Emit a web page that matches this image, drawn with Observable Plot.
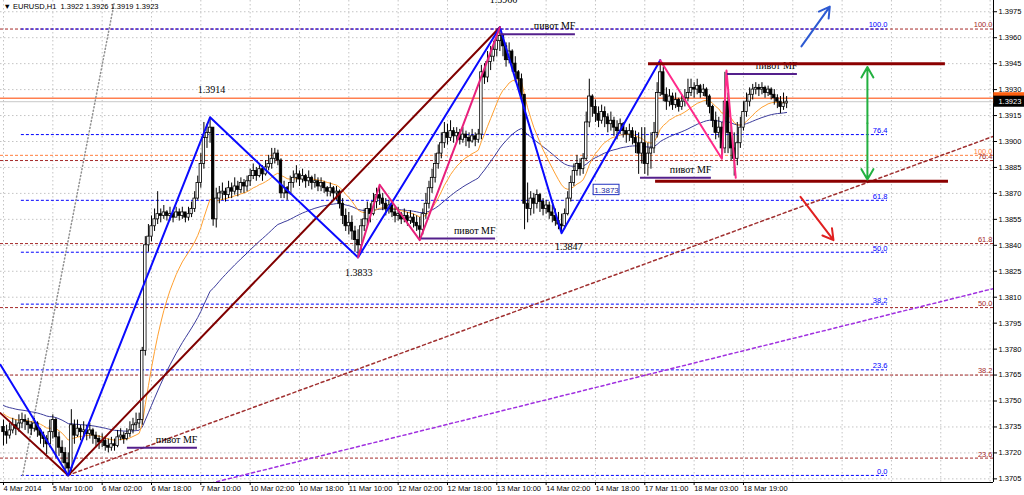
<!DOCTYPE html>
<html><head><meta charset="utf-8">
<script src="https://cdn.jsdelivr.net/npm/d3@7"></script>
<script src="https://cdn.jsdelivr.net/npm/@observablehq/plot@0.6"></script>
<style>body{margin:0;background:#fff}</style>
</head><body><div id="chart"></div>
<script>
// ---- data (EURUSD H1, bar index 0 = 4 Mar 2014 18:00) ----
const title = "\u25BC EURUSD,H1  1.3922 1.3926 1.3919 1.3923";
const firstOpen = 1.3735;
const closes = [
1.3732,1.3730,1.3733,1.3736,1.3734,1.3737,1.3739,1.3738,1.3736,1.3734,
1.3737,1.3733,1.3730,1.3728,1.3725,1.3732,1.3739,1.3729,1.3723,1.3720,
1.3714,1.3711,1.3736,1.3730,1.3734,1.3732,1.3733,1.3731,1.3733,1.3730,
1.3728,1.3726,1.3727,1.3724,1.3723,1.3725,1.3724,1.3729,1.3730,1.3728,
1.3731,1.3733,1.3736,1.3737,1.3739,1.3779,1.3840,1.3845,1.3851,1.3855,
1.3858,1.3857,1.3859,1.3857,1.3858,1.3856,1.3859,1.3857,1.3859,1.3856,
1.3858,1.3861,1.3867,1.3876,1.3887,1.3902,1.3905,1.3908,1.3855,1.3867,
1.3870,1.3871,1.3869,1.3873,1.3871,1.3874,1.3872,1.3876,1.3874,1.3877,
1.3880,1.3883,1.3880,1.3884,1.3881,1.3885,1.3887,1.3890,1.3893,1.3889,
1.3870,1.3873,1.3870,1.3876,1.3879,1.3881,1.3878,1.3880,1.3877,1.3879,
1.3876,1.3877,1.3874,1.3876,1.3873,1.3871,1.3873,1.3870,1.3871,1.3864,
1.3857,1.3851,1.3853,1.3848,1.3843,1.3840,1.3851,1.3855,1.3861,1.3858,
1.3865,1.3869,1.3867,1.3864,1.3861,1.3863,1.3859,1.3857,1.3858,1.3855,
1.3857,1.3854,1.3856,1.3853,1.3851,1.3849,1.3858,1.3864,1.3873,1.3879,
1.3887,1.3893,1.3899,1.3905,1.3902,1.3906,1.3903,1.3905,1.3901,1.3904,
1.3902,1.3900,1.3903,1.3901,1.3904,1.3940,1.3937,1.3946,1.3949,1.3953,
1.3958,1.3961,1.3955,1.3947,1.3952,1.3945,1.3940,1.3936,1.3927,1.3864,
1.3861,1.3867,1.3864,1.3869,1.3865,1.3861,1.3863,1.3859,1.3857,1.3854,
1.3852,1.3851,1.3858,1.3867,1.3876,1.3883,1.3887,1.3884,1.3890,1.3911,
1.3926,1.3920,1.3916,1.3912,1.3917,1.3914,1.3910,1.3912,1.3908,1.3906,
1.3910,1.3906,1.3904,1.3906,1.3902,1.3899,1.3893,1.3899,1.3887,1.3893,
1.3896,1.3905,1.3928,1.3940,1.3927,1.3923,1.3926,1.3921,1.3924,1.3920,
1.3923,1.3925,1.3928,1.3931,1.3930,1.3932,1.3928,1.3930,1.3926,1.3920,
1.3912,1.3905,1.3908,1.3896,1.3923,1.3905,1.3896,1.3890,1.3899,1.3908,
1.3917,1.3923,1.3927,1.3930,1.3931,1.3930,1.3931,1.3928,1.3930,1.3927,
1.3925,1.3923,1.3920,1.3922,1.3923];
const highs = [
1.3739,1.3736,1.3737,1.3740,1.3739,1.3742,1.3743,1.3742,1.3740,1.3738,
1.3740,1.3738,1.3734,1.3732,1.3730,1.3739,1.3742,1.3740,1.3732,1.3727,
1.3723,1.3720,1.3745,1.3739,1.3739,1.3736,1.3738,1.3736,1.3737,1.3734,
1.3732,1.3730,1.3731,1.3729,1.3728,1.3729,1.3728,1.3733,1.3734,1.3732,
1.3734,1.3738,1.3740,1.3743,1.3743,1.3781,1.3845,1.3852,1.3857,1.3861,
1.3871,1.3861,1.3863,1.3860,1.3862,1.3860,1.3862,1.3861,1.3862,1.3859,
1.3862,1.3865,1.3871,1.3880,1.3893,1.3911,1.3910,1.3914,1.3905,1.3873,
1.3874,1.3876,1.3873,1.3877,1.3876,1.3879,1.3877,1.3879,1.3878,1.3880,
1.3884,1.3887,1.3885,1.3887,1.3886,1.3889,1.3892,1.3896,1.3896,1.3895,
1.3890,1.3877,1.3874,1.3880,1.3883,1.3886,1.3883,1.3884,1.3881,1.3883,
1.3880,1.3881,1.3879,1.3879,1.3877,1.3874,1.3876,1.3874,1.3874,1.3872,
1.3867,1.3861,1.3859,1.3857,1.3851,1.3849,1.3855,1.3861,1.3865,1.3864,
1.3870,1.3873,1.3875,1.3870,1.3867,1.3866,1.3865,1.3862,1.3862,1.3859,
1.3861,1.3859,1.3860,1.3858,1.3857,1.3856,1.3861,1.3870,1.3877,1.3884,
1.3893,1.3898,1.3905,1.3911,1.3910,1.3912,1.3908,1.3908,1.3907,1.3908,
1.3906,1.3905,1.3907,1.3905,1.3907,1.3944,1.3945,1.3952,1.3955,1.3958,
1.3963,1.3966,1.3962,1.3957,1.3957,1.3953,1.3949,1.3941,1.3939,1.3927,
1.3876,1.3871,1.3870,1.3872,1.3870,1.3867,1.3866,1.3865,1.3863,1.3861,
1.3859,1.3858,1.3861,1.3871,1.3880,1.3887,1.3892,1.3890,1.3893,1.3917,
1.3936,1.3927,1.3924,1.3920,1.3921,1.3920,1.3916,1.3917,1.3914,1.3912,
1.3913,1.3911,1.3908,1.3910,1.3908,1.3906,1.3905,1.3908,1.3908,1.3899,
1.3905,1.3911,1.3934,1.3947,1.3943,1.3931,1.3930,1.3928,1.3928,1.3925,
1.3927,1.3930,1.3936,1.3936,1.3934,1.3936,1.3933,1.3933,1.3931,1.3927,
1.3921,1.3917,1.3914,1.3911,1.3940,1.3928,1.3911,1.3905,1.3911,1.3914,
1.3923,1.3928,1.3931,1.3933,1.3934,1.3933,1.3934,1.3932,1.3932,1.3931,
1.3930,1.3927,1.3926,1.3928,1.3926];
const lows = [
1.3724,1.3725,1.3728,1.3731,1.3730,1.3732,1.3734,1.3733,1.3731,1.3730,
1.3732,1.3729,1.3725,1.3723,1.3719,1.3723,1.3728,1.3717,1.3718,1.3714,
1.3710,1.3707,1.3709,1.3725,1.3729,1.3727,1.3729,1.3727,1.3728,1.3725,
1.3723,1.3722,1.3723,1.3721,1.3720,1.3721,1.3721,1.3723,1.3727,1.3725,
1.3727,1.3729,1.3731,1.3733,1.3734,1.3736,1.3776,1.3836,1.3842,1.3848,
1.3852,1.3853,1.3855,1.3854,1.3854,1.3853,1.3856,1.3854,1.3855,1.3853,
1.3854,1.3856,1.3859,1.3866,1.3873,1.3884,1.3896,1.3899,1.3851,1.3850,
1.3864,1.3866,1.3865,1.3867,1.3867,1.3869,1.3868,1.3870,1.3870,1.3871,
1.3874,1.3878,1.3877,1.3879,1.3877,1.3880,1.3883,1.3884,1.3887,1.3886,
1.3867,1.3867,1.3866,1.3869,1.3873,1.3876,1.3874,1.3876,1.3873,1.3874,
1.3872,1.3873,1.3871,1.3871,1.3870,1.3868,1.3868,1.3866,1.3866,1.3861,
1.3852,1.3848,1.3846,1.3843,1.3836,1.3833,1.3837,1.3848,1.3851,1.3853,
1.3857,1.3861,1.3863,1.3860,1.3857,1.3858,1.3856,1.3853,1.3854,1.3852,
1.3853,1.3851,1.3852,1.3850,1.3848,1.3843,1.3846,1.3855,1.3861,1.3870,
1.3876,1.3884,1.3890,1.3896,1.3898,1.3900,1.3899,1.3900,1.3898,1.3899,
1.3897,1.3896,1.3899,1.3897,1.3899,1.3901,1.3933,1.3934,1.3941,1.3946,
1.3949,1.3952,1.3949,1.3943,1.3945,1.3940,1.3934,1.3930,1.3925,1.3849,
1.3853,1.3857,1.3858,1.3861,1.3859,1.3857,1.3858,1.3855,1.3853,1.3851,
1.3849,1.3847,1.3849,1.3857,1.3865,1.3874,1.3880,1.3880,1.3881,1.3889,
1.3908,1.3914,1.3911,1.3908,1.3910,1.3908,1.3905,1.3906,1.3903,1.3901,
1.3904,1.3902,1.3899,1.3900,1.3898,1.3893,1.3881,1.3887,1.3881,1.3880,
1.3884,1.3893,1.3902,1.3926,1.3923,1.3918,1.3920,1.3918,1.3919,1.3917,
1.3918,1.3920,1.3923,1.3926,1.3925,1.3927,1.3925,1.3926,1.3921,1.3916,
1.3908,1.3901,1.3902,1.3890,1.3893,1.3893,1.3889,1.3880,1.3886,1.3896,
1.3906,1.3914,1.3920,1.3924,1.3927,1.3926,1.3927,1.3925,1.3926,1.3924,
1.3921,1.3919,1.3916,1.3918,1.3919];

const timeLabels = ["4 Mar 2014","5 Mar 10:00","6 Mar 02:00","6 Mar 18:00","7 Mar 10:00","10 Mar 02:00","10 Mar 18:00","11 Mar 10:00","12 Mar 02:00","12 Mar 18:00","13 Mar 10:00","14 Mar 02:00","14 Mar 18:00","17 Mar 11:00","18 Mar 03:00","18 Mar 19:00"];
const barsPerLabel = 16;
const priceTicks = [1.3705,1.3720,1.3735,1.3750,1.3765,1.3780,1.3795,1.3810,1.3825,1.3840,1.3855,1.3870,1.3885,1.3900,1.3915,1.3930,1.3945,1.3960,1.3975];
const viewBars = [-0.973, 321.1];
const viewPrices = [1.37029, 1.39815];

// moving averages (EMA), seeded from the values visible at the left edge
const fastPeriod = 17, fastSeed = 1.3744;
const slowPeriod = 50, slowSeed = 1.3748;

// Fibonacci levels
const blueFibLevels = ["0.0","23.6","38.2","50.0","61.8","76.4","100.0"];
const blueFibPrices = [1.3707,1.3768,1.3806,1.3836,1.3866,1.3904,1.3965];
const blueFibBars = [5.8, 286.7];
const brownFibLevels = ["23.6","38.2","50.0","61.8","76.4","100.0"];
const brownFibPrices = [1.3717,1.3765,1.3804,1.3841,1.3889,1.3965];
const orangeFibLevels = ["100.0"];
const orangeFibPrices = [1.3892];

// zigzags
const zigBlueBars = [-1, 21, 67, 115, 161, 181, 213];
const zigBluePrices = [1.3771, 1.3707, 1.3914, 1.3833, 1.3966, 1.3847, 1.3947];
const zigMaroonBars = [-1, 21, 161];
const zigMaroonPrices = [1.3743, 1.3707, 1.3966];
const zigPinkABars = [115, 122, 135, 161];
const zigPinkAPrices = [1.3833, 1.3875, 1.3843, 1.3966];
const zigPinkBBars = [213, 233, 234.5, 237.5];
const zigPinkBPrices = [1.3947, 1.3890, 1.3941, 1.3879];

// trend lines
const grayTrendBars = [6.2, 36.0], grayTrendPrices = [1.3707, 1.3981];
const brownTrendBars = [20.8, 321.1], brownTrendPrices = [1.3707, 1.3903];
const purpleTrendBars = [61.6, 321.1], purpleTrendPrices = [1.3700, 1.3815];

// pivot MF segments
const pivotStart = [40.2, 135.6, 161.2, 206.6, 234.8];
const pivotEnd = [62.9, 159.6, 185.5, 229.6, 257.5];
const pivotPrices = [1.3723, 1.3844, 1.3962, 1.3879, 1.3939];
const pivotText = "пивот MF";

// channel levels
const channelStart = [209.2, 211.5];
const channelEnd = [305.5, 306.5];
const channelPrices = [1.3945, 1.3877];

// price labels
const labelBars = [67.5, 115.2, 183.3, 162.2];
const labelPrices = [1.3930, 1.3824, 1.3839, 1.3982];
const labelTexts = ["1.3914", "1.3833", "1.3847", "1.3966"];
const boxBars = [191.4, 199.8], boxPrices = [1.3869, 1.3875], boxText = "1.3873";

// arrows
const arrowUp = {b1: 258.8, p1: 1.3955, b2: 268.0, p2: 1.3978};
const arrowDown = {b1: 258.5, p1: 1.3868, b2: 269.2, p2: 1.3843};
const rangeArrowBar = 280.2, rangeArrowPrices = [1.3943, 1.3878];

const askPrice = 1.3925, bidPrice = 1.3923;

// ---- build ----
function ema(values, period, seed) {
  const a = 2 / (period + 1); let e = seed;
  return values.map(v => (e += a * (v - e)));
}
const bars = closes.map((c, i) => {
  const o = i ? closes[i - 1] : firstOpen;
  return {i, o, c, h: Math.max(highs[i], o, c), l: Math.min(lows[i], o, c)};
});
const fast = ema(closes, fastPeriod, fastSeed).map((v, i) => ({i, v}));
const slow = ema(closes, slowPeriod, slowSeed).map((v, i) => ({i, v}));
const pts = (bs, ps) => bs.map((b, k) => ({b, p: ps[k]}));
const labelTicks = timeLabels.map((_, k) => k * barsPerLabel);
const gridTicks = d3.range(0, viewBars[1], barsPerLabel);
const xMax = viewBars[1];

const blueFib = blueFibPrices.map((p, k) => ({p, t: blueFibLevels[k]}));
const brownFib = brownFibPrices.map((p, k) => ({p, t: brownFibLevels[k]}));
const orangeFib = orangeFibPrices.map((p, k) => ({p, t: orangeFibLevels[k]}));
const pivots = pivotPrices.map((p, k) => ({p, b1: pivotStart[k], b2: pivotEnd[k]}));
const channels = channelPrices.map((p, k) => ({p, b1: channelStart[k], b2: channelEnd[k]}));
const labels = labelTexts.map((t, k) => ({t, b: labelBars[k], p: labelPrices[k]}));
const serif = "'Liberation Serif', 'Times New Roman', serif";

const chart = Plot.plot({
  width: 1024, height: 495,
  marginLeft: 0, marginRight: 31, marginTop: 0, marginBottom: 13,
  x: {type: "linear", domain: viewBars},
  y: {type: "linear", domain: viewPrices},
  style: {fontFamily: "'Liberation Sans', Arial, sans-serif", fontSize: "7.5px", background: "white", color: "black", overflow: "visible"},
  marks: [
    Plot.gridY({ticks: priceTicks, stroke: "#c4c4c4", strokeOpacity: 1, strokeDasharray: "1.5,2.5"}),
    Plot.gridX({ticks: gridTicks, stroke: "#c4c4c4", strokeOpacity: 1, strokeDasharray: "1.5,2.5"}),
    // fib levels
    Plot.ruleY(brownFib, {y: "p", stroke: "#a52a2a", strokeDasharray: "3,2"}),
    Plot.ruleY(orangeFib, {y: "p", stroke: "#ff7f3f", strokeDasharray: "3,2"}),
    Plot.ruleY(blueFib, {y: "p", x1: blueFibBars[0], x2: blueFibBars[1], stroke: "#0000ff", strokeDasharray: "3,2"}),
    Plot.text(brownFib, {x: xMax, y: "p", text: "t", textAnchor: "end", dx: -1, dy: -4, fill: "#a52a2a"}),
    Plot.text(orangeFib, {x: xMax, y: "p", text: "t", textAnchor: "end", dx: -1, dy: -4, fill: "#ff7f3f"}),
    Plot.text(blueFib, {x: blueFibBars[1], y: "p", text: "t", textAnchor: "end", dy: -4, fill: "#0000ff"}),
    // price lines
    Plot.ruleY([bidPrice], {stroke: "#c8c8c8"}),
    Plot.ruleY([askPrice], {stroke: "#ff8050", strokeWidth: 1.5}),
    // trend lines
    Plot.line(pts(grayTrendBars, grayTrendPrices), {x: "b", y: "p", stroke: "#909090", strokeDasharray: "1,2.5", clip: true}),
    Plot.line(pts(brownTrendBars, brownTrendPrices), {x: "b", y: "p", stroke: "#a03030", strokeDasharray: "3,3", clip: true}),
    Plot.line(pts(purpleTrendBars, purpleTrendPrices), {x: "b", y: "p", stroke: "#a030e0", strokeDasharray: "3,3", clip: true}),
    // moving averages
    Plot.line(slow, {x: "i", y: "v", stroke: "#3c3c9c", strokeWidth: 1}),
    Plot.line(fast, {x: "i", y: "v", stroke: "#ffa030", strokeWidth: 1}),
    // candles
    Plot.ruleX(bars, {x: "i", y1: "l", y2: "h", stroke: "black", strokeWidth: 1}),
    Plot.rect(bars, {x1: d => d.i - 0.4, x2: d => d.i + 0.4, y1: "o", y2: "c", fill: d => d.c >= d.o ? "white" : "black", stroke: "black", strokeWidth: 0.8}),
    // zigzags
    Plot.line(pts(zigMaroonBars, zigMaroonPrices), {x: "b", y: "p", stroke: "#800000", strokeWidth: 2, clip: true}),
    Plot.line(pts(zigBlueBars, zigBluePrices), {x: "b", y: "p", stroke: "#0a0aff", strokeWidth: 2, clip: true}),
    Plot.line(pts(zigPinkABars, zigPinkAPrices), {x: "b", y: "p", stroke: "#e8207c", strokeWidth: 2}),
    Plot.line(pts(zigPinkBBars, zigPinkBPrices), {x: "b", y: "p", stroke: "#ff2a8a", strokeWidth: 2}),
    // pivots
    Plot.ruleY(pivots, {y: "p", x1: "b1", x2: "b2", stroke: "#54208c", strokeWidth: 2}),
    Plot.text(pivots, {x: "b2", y: "p", text: () => pivotText, textAnchor: "end", dy: -8, fontFamily: serif, fontSize: 10, fill: "black"}),
    // channel
    Plot.ruleY(channels, {y: "p", x1: "b1", x2: "b2", stroke: "#8b0000", strokeWidth: 3}),
    // arrows
    Plot.arrow([arrowUp], {x1: "b1", y1: "p1", x2: "b2", y2: "p2", stroke: "#2d5ad2", strokeWidth: 2, headLength: 9}),
    Plot.arrow([arrowDown], {x1: "b1", y1: "p1", x2: "b2", y2: "p2", stroke: "#e02020", strokeWidth: 2, headLength: 9}),
    Plot.arrow(rangeArrowPrices.map(p => ({p})), {x1: rangeArrowBar, x2: rangeArrowBar, y1: d3.mean(rangeArrowPrices), y2: "p", stroke: "#22b040", strokeWidth: 2, headLength: 9}),
    // price labels
    Plot.text(labels, {x: "b", y: "p", text: "t", fontFamily: serif, fontSize: 10, fill: "black"}),
    Plot.rect([{}], {x1: boxBars[0], x2: boxBars[1], y1: boxPrices[0], y2: boxPrices[1], fill: "white", stroke: "#2030c0"}),
    Plot.text([boxText], {x: d3.mean(boxBars), y: d3.mean(boxPrices), text: d => d, fill: "#1a2aa0", fontSize: 8}),
    // title
    Plot.text([title], {frameAnchor: "top-left", text: d => d, dx: 3, dy: 3, lineAnchor: "top", textAnchor: "start", fontSize: 7.5, fill: "black"}),
    // axes frame
    Plot.ruleX([xMax], {stroke: "black"}),
    Plot.ruleY([viewPrices[0]], {stroke: "black"}),
    Plot.axisY({anchor: "right", ticks: priceTicks, tickFormat: d => d.toFixed(4), tickSize: 3, tickPadding: 2, label: null}),
    Plot.axisX({anchor: "bottom", ticks: labelTicks, tickFormat: d => timeLabels[Math.round(d / barsPerLabel)], tickSize: 3, tickPadding: 0, textAnchor: "start", label: null}),
    // right-axis price boxes
    Plot.rect([askPrice], {x1: xMax + 0.1, x2: xMax + 11, y1: d => d - 0.00032, y2: d => d + 0.00032, fill: "#ff6010"}),
    Plot.text([askPrice], {x: xMax + 1.6, y: d => d, text: d => d.toFixed(4), textAnchor: "start", fill: "white"}),
    Plot.rect([bidPrice], {x1: xMax + 0.1, x2: xMax + 11, y1: d => d - 0.00032, y2: d => d + 0.00032, fill: "black"}),
    Plot.text([bidPrice], {x: xMax + 1.6, y: d => d, text: d => d.toFixed(4), textAnchor: "start", fill: "white"})
  ]
});
document.getElementById("chart").appendChild(chart);
</script>
</body></html>
